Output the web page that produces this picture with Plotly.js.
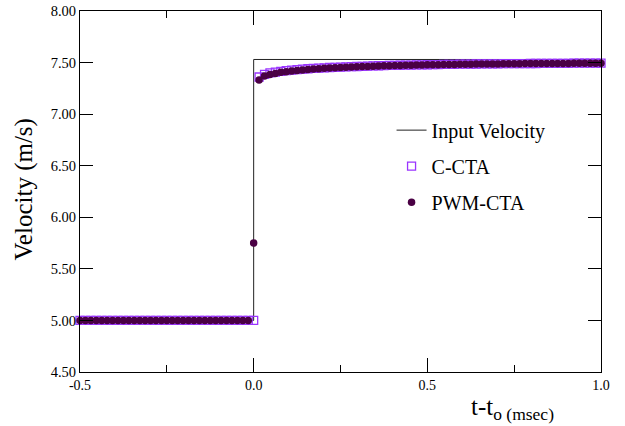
<!DOCTYPE html>
<html>
<head>
<meta charset="utf-8">
<script src="https://cdn.plot.ly/plotly-3.0.1.min.js"></script>
<style>html,body{margin:0;padding:0;background:#fff;}#chart{width:625px;height:426px;}</style>
</head>
<body>
<div id="chart"></div>
<script>
// Input velocity step
const inputT = [-0.5, 0.0, 0.0, 1.0];
const inputV = [5.00, 5.00, 7.53, 7.53];

// Sample times (msec)
const timePre = [-0.5, -0.4844, -0.4688, -0.4531, -0.4375, -0.4219, -0.4063, -0.3906, -0.375, -0.3594, -0.3438, -0.3281, -0.3125, -0.2969, -0.2813, -0.2656, -0.25, -0.2344, -0.2188, -0.2031, -0.1875, -0.1719, -0.1563, -0.1406, -0.125, -0.1094, -0.0938, -0.0781, -0.0625, -0.0469, -0.0313, -0.0156, 0.0];
const timePost = [0.0156, 0.0313, 0.0469, 0.0625, 0.0781, 0.0938, 0.1094, 0.125, 0.1406, 0.1563, 0.1719, 0.1875, 0.2031, 0.2188, 0.2344, 0.25, 0.2656, 0.2813, 0.2969, 0.3125, 0.3281, 0.3438, 0.3594, 0.375, 0.3906, 0.4063, 0.4219, 0.4375, 0.4531, 0.4688, 0.4844, 0.5, 0.5156, 0.5313, 0.5469, 0.5625, 0.5781, 0.5938, 0.6094, 0.625, 0.6406, 0.6563, 0.6719, 0.6875, 0.7031, 0.7188, 0.7344, 0.75, 0.7656, 0.7813, 0.7969, 0.8125, 0.8281, 0.8438, 0.8594, 0.875, 0.8906, 0.9063, 0.9219, 0.9375, 0.9531, 0.9688, 0.9844, 1.0];

// C-CTA velocity (m/s)
const ccPre = [5.00, 5.00, 5.00, 5.00, 5.00, 5.00, 5.00, 5.00, 5.00, 5.00, 5.00, 5.00, 5.00, 5.00, 5.00, 5.00, 5.00, 5.00, 5.00, 5.00, 5.00, 5.00, 5.00, 5.00, 5.00, 5.00, 5.00, 5.00, 5.00, 5.00, 5.00, 5.00, 5.00];
const ccPost = [7.360, 7.385, 7.400, 7.408, 7.415, 7.421, 7.427, 7.432, 7.436, 7.440, 7.443, 7.446, 7.449, 7.452, 7.454, 7.456, 7.458, 7.460, 7.462, 7.464, 7.466, 7.468, 7.469, 7.470, 7.472, 7.473, 7.474, 7.475, 7.476, 7.477, 7.478, 7.479, 7.480, 7.481, 7.482, 7.483, 7.483, 7.484, 7.485, 7.485, 7.486, 7.487, 7.487, 7.488, 7.488, 7.489, 7.489, 7.490, 7.490, 7.490, 7.491, 7.491, 7.492, 7.492, 7.492, 7.493, 7.493, 7.493, 7.494, 7.494, 7.494, 7.494, 7.495, 7.495];

// PWM-CTA velocity (m/s)
const pwmPre = [5.00, 5.00, 5.00, 5.00, 5.00, 5.00, 5.00, 5.00, 5.00, 5.00, 5.00, 5.00, 5.00, 5.00, 5.00, 5.00, 5.00, 5.00, 5.00, 5.00, 5.00, 5.00, 5.00, 5.00, 5.00, 5.00, 5.00, 5.00, 5.00, 5.00, 5.00, 5.00, 5.75];
const pwmPost = [7.330, 7.370, 7.385, 7.395, 7.405, 7.412, 7.418, 7.424, 7.429, 7.433, 7.437, 7.441, 7.444, 7.447, 7.450, 7.453, 7.455, 7.457, 7.459, 7.461, 7.463, 7.465, 7.467, 7.468, 7.470, 7.471, 7.472, 7.474, 7.475, 7.476, 7.477, 7.478, 7.479, 7.480, 7.481, 7.482, 7.482, 7.483, 7.484, 7.484, 7.485, 7.486, 7.486, 7.487, 7.487, 7.488, 7.488, 7.489, 7.489, 7.490, 7.490, 7.490, 7.491, 7.491, 7.491, 7.492, 7.492, 7.492, 7.493, 7.493, 7.493, 7.493, 7.494, 7.494];

const xTickVals = [-0.5, 0.0, 0.5, 1.0];
const xTickText = ['-0.5', '0.0', '0.5', '1.0'];

const FONT = "'Liberation Serif', 'Times New Roman', serif";
const times = timePre.concat(timePost);

const traces = [
  {x: inputT, y: inputV, mode: 'lines', name: 'Input Velocity',
   line: {color: '#222', width: 1}, legendgroup: 'a', cliponaxis: false},
  {x: times, y: ccPre.concat(ccPost), mode: 'markers', name: 'C-CTA',
   marker: {symbol: 'square-open', size: 8, color: '#9a34ff', line: {width: 1.3, color: '#9a34ff'}},
   legendgroup: 'b', cliponaxis: false},
  {x: times, y: pwmPre.concat(pwmPost), mode: 'markers', name: 'PWM-CTA',
   marker: {symbol: 'circle', size: 7.5, color: '#4a0044'},
   legendgroup: 'c', cliponaxis: false}
];

const layout = {
  width: 625, height: 426,
  margin: {l: 80, r: 24, t: 11, b: 54},
  paper_bgcolor: '#fff', plot_bgcolor: '#fff',
  font: {family: FONT, size: 14, color: '#000'},
  showlegend: true,
  legend: {x: 0.598, y: 0.724, xanchor: 'left', yanchor: 'top',
           font: {family: FONT, size: 20, color: '#000'},
           bgcolor: 'rgba(0,0,0,0)', tracegroupgap: 7},
  xaxis: {range: [-0.5, 1.0], tickvals: xTickVals, ticktext: xTickText,
          ticks: 'inside', ticklen: 14, tickwidth: 1, tickcolor: '#000',
          minor: {dtick: 0.25, ticks: 'inside', ticklen: 7, tickwidth: 1, tickcolor: '#000'},
          showline: true, linecolor: '#000', linewidth: 1, mirror: 'ticks',
          showgrid: false, zeroline: false, tickfont: {family: FONT, size: 14}},
  yaxis: {range: [4.5, 8.0], dtick: 0.5, tick0: 4.5, tickformat: '.2f',
          ticks: 'inside', ticklen: 13, tickwidth: 1, tickcolor: '#000',
          showline: true, linecolor: '#000', linewidth: 1, mirror: 'ticks',
          showgrid: false, zeroline: false, tickfont: {family: FONT, size: 14.5}},
  annotations: [
    {text: 'Velocity (m/s)', textangle: -90, xref: 'paper', yref: 'paper',
     x: -0.108, y: 0.505, xanchor: 'center', yanchor: 'middle', showarrow: false,
     font: {family: FONT, size: 25, color: '#000'}},
    {text: 't-t<sub>o (msec)</sub>', xref: 'paper', yref: 'paper',
     x: 0.746, y: -0.052, xanchor: 'left', yanchor: 'top', showarrow: false,
     font: {family: FONT, size: 25, color: '#000'}}
  ]
};

Plotly.newPlot('chart', traces, layout, {displayModeBar: false, staticPlot: true});
</script>
</body>
</html>
